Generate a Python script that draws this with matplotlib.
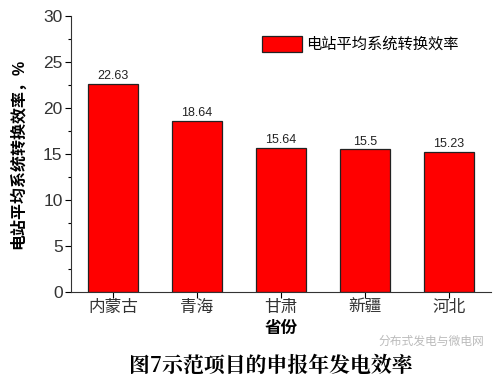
import matplotlib.pyplot as plt
from matplotlib.ticker import MultipleLocator

provinces = ["内蒙古", "青海", "甘肃", "新疆", "河北"]
efficiency = [22.63, 18.64, 15.64, 15.5, 15.23]
value_labels = ["22.63", "18.64", "15.64", "15.5", "15.23"]

plt.rcParams["font.family"] = ["Liberation Sans", "Noto Sans CJK SC", "DejaVu Sans"]

fig = plt.figure(figsize=(4.96, 3.83), dpi=100)
ax = fig.add_axes([0.143, 0.238, 0.847, 0.72])

x = list(range(len(provinces)))
ax.bar(x, efficiency, width=0.6, color="#ff0000", edgecolor="#222222",
	linewidth=0.9, label="电站平均系统转换效率")

for xi, v, s in zip(x, efficiency, value_labels):
	ax.text(xi, v + 0.2, s, ha="center", va="bottom", fontsize=9, color="#222222")

ax.set_xlim(-0.5, 4.5)
ax.set_ylim(0, 30)
ax.yaxis.set_major_locator(MultipleLocator(5))
ax.yaxis.set_minor_locator(MultipleLocator(2.5))
ax.set_xticks(x)
ax.set_xticklabels(provinces, fontsize=12, color="#333333")
ax.tick_params(axis="y", labelsize=12.5, labelcolor="#333333", direction="out", length=4, width=0.8, pad=2)
ax.tick_params(axis="y", which="minor", direction="out", length=2.5, width=0.8)
ax.tick_params(axis="x", direction="out", length=4, width=0.8, pad=2)
ax.spines["top"].set_visible(False)
ax.spines["right"].set_visible(False)
ax.spines["left"].set_color("#333333")
ax.spines["bottom"].set_color("#333333")

ax.set_xlabel("省份", fontsize=12, fontweight="bold", labelpad=4)
ax.set_ylabel("电站平均系统转换效率，%", fontsize=11.5, fontweight="bold", labelpad=12)

ax.legend(loc="upper left", bbox_to_anchor=(0.44, 0.95), frameon=False, fontsize=11,
	handlelength=2.6, handleheight=1.2, handletextpad=0.3, borderaxespad=0)

fig.text(0.545, 0.045, "图7示范项目的申报年发电效率", ha="center", va="center",
	fontsize=15, fontweight="bold", family=["Noto Serif CJK SC", "Noto Sans CJK SC"])
fig.text(0.87, 0.108, "分布式发电与微电网", ha="center", va="center",
	fontsize=8.5, color="#aaaaaa", alpha=0.8)

fig.savefig("out.png", dpi=100)
